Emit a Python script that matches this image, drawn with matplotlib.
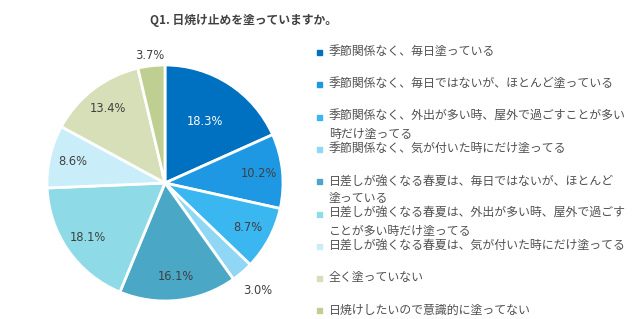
import matplotlib
matplotlib.use("Agg")
import matplotlib.pyplot as plt
import numpy as np

plt.rcParams['font.family'] = ['Noto Sans CJK JP', 'DejaVu Sans']

title = "Q1. 日焼け止めを塗っていますか。"

categories = [
    "季節関係なく、毎日塗っている",
    "季節関係なく、毎日ではないが、ほとんど塗っている",
    "季節関係なく、外出が多い時、屋外で過ごすことが多い\n時だけ塗ってる",
    "季節関係なく、気が付いた時にだけ塗ってる",
    "日差しが強くなる春夏は、毎日ではないが、ほとんど\n塗っている",
    "日差しが強くなる春夏は、外出が多い時、屋外で過ごす\nことが多い時だけ塗ってる",
    "日差しが強くなる春夏は、気が付いた時にだけ塗ってる",
    "全く塗っていない",
    "日焼けしたいので意識的に塗ってない",
]
values = [18.3, 10.2, 8.7, 3.0, 16.1, 18.1, 8.6, 13.4, 3.7]
colors = ["#0070c0", "#1f98e4", "#3ab6f0", "#8fd7f4", "#4aa8c6",
          "#8edbe7", "#c9edf9", "#d7dfb8", "#bfcf92"]

fig = plt.figure(figsize=(6.4, 3.19), dpi=100)
W, H = 640, 319
cx, cy, r = 165, 183, 118
ax = fig.add_axes([(cx - r) / W, (H - cy - r) / H, 2 * r / W, 2 * r / H])

wedges, texts, autotexts = ax.pie(
    values, colors=colors, startangle=90, counterclock=False,
    autopct="%.1f%%", pctdistance=0.8,
    wedgeprops=dict(edgecolor="white", linewidth=2),
    textprops=dict(fontsize=8.3, color="#404040", family="DejaVu Sans"))
ax.set_xlim(-1, 1)
ax.set_ylim(-1, 1)

# move a few percentage labels like the original
for i, w in enumerate(wedges):
    ang = np.deg2rad((w.theta1 + w.theta2) / 2)
    d = {0: 0.62, 3: 1.2, 8: 1.09}.get(i)
    if d is not None:
        autotexts[i].set_position((d * np.cos(ang), d * np.sin(ang)))
autotexts[0].set_color("white")

fig.text(244 / W, 1 - 20 / H, title, ha="center", va="center",
         fontsize=8.5, fontweight="bold", color="#404040")

for i, (lab, c) in enumerate(zip(categories, colors)):
    y = 51 + 32.3 * i
    fig.patches.append(plt.Rectangle((316.5 / W, 1 - (y + 4) / H), 5 / W, 5 / H,
                                     transform=fig.transFigure, color=c))
    fig.text(329 / W, 1 - (y - 6) / H, lab, ha="left", va="top",
             fontsize=8.6, color="#505050", linespacing=1.5)

fig.savefig("out.png", dpi=100)
